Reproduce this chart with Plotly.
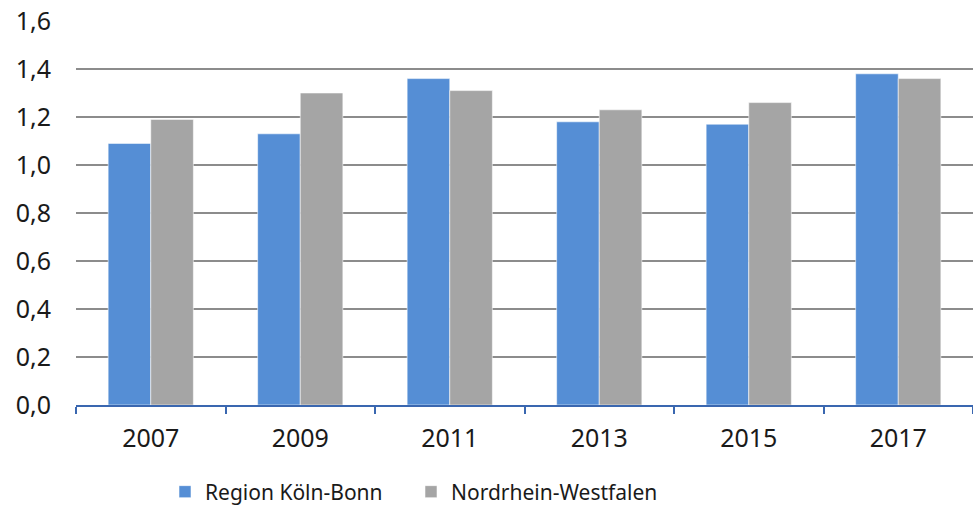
import plotly.graph_objects as go

years = ["2007", "2009", "2011", "2013", "2015", "2017"]
koeln_bonn = [1.09, 1.13, 1.36, 1.18, 1.17, 1.38]
nrw = [1.19, 1.30, 1.31, 1.23, 1.26, 1.36]
y_ticks = [0.0, 0.2, 0.4, 0.6, 0.8, 1.0, 1.2, 1.4, 1.6]
y_tick_labels = ["0,0", "0,2", "0,4", "0,6", "0,8", "1,0", "1,2", "1,4", "1,6"]

FONT = "Noto Sans, Liberation Sans, Arial, sans-serif"
W, H = 973, 507

fig = go.Figure()
fig.add_trace(go.Bar(
    x=years, y=koeln_bonn, name="Region Köln-Bonn", legend="legend",
    marker=dict(color="#558ED5", line=dict(color="rgba(255,255,255,0.55)", width=1)),
))
fig.add_trace(go.Bar(
    x=years, y=nrw, name="Nordrhein-Westfalen", legend="legend2",
    marker=dict(color="#A5A5A5", line=dict(color="rgba(255,255,255,0.55)", width=1)),
))

legend_style = dict(
    orientation="h", xanchor="left", xref="container",
    y=15 / H, yanchor="middle", yref="container",
    font=dict(family=FONT, size=21, color="#1a1a1a"),
    itemwidth=30, bgcolor="rgba(0,0,0,0)", borderwidth=0,
)

fig.update_layout(
    width=W, height=H,
    margin=dict(l=76, r=0, t=21, b=102, autoexpand=False),
    paper_bgcolor="white", plot_bgcolor="white",
    barmode="group", bargap=0.43, bargroupgap=0,
    font=dict(family=FONT, color="#1a1a1a", size=25),
    showlegend=True,
    legend=dict(x=165 / W, **legend_style),
    legend2=dict(x=411 / W, **legend_style),
)
fig.update_xaxes(
    type="category", automargin=False,
    showline=True, linecolor="#3A67B0", linewidth=1.5,
    ticks="outside", tickson="boundaries", ticklen=7, tickcolor="#3A67B0", tickwidth=1.5,
    showgrid=False, ticklabelstandoff=10,
    tickfont=dict(size=25),
)
fig.update_yaxes(
    range=[0, 1.6], automargin=False,
    tickvals=y_ticks, ticktext=y_tick_labels,
    showgrid=True, gridcolor="#8C8C8C", gridwidth=1.5,
    showline=False, zeroline=False,
    ticks="", ticklabelstandoff=24,
    tickfont=dict(size=25),
)

fig.write_html("out.html")
